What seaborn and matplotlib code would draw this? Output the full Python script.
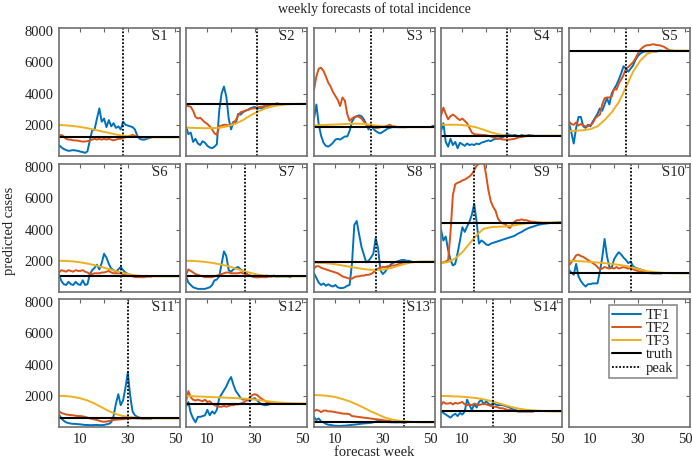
import numpy as np
import matplotlib
matplotlib.use("Agg")
import matplotlib.pyplot as plt
from matplotlib.lines import Line2D
import seaborn as sns

# ── Data ─────────────────────────────────────────────────────────────────────
PANELS = ["S1", "S2", "S3", "S4", "S5", "S6", "S7", "S8", "S9", "S10",
          "S11", "S12", "S13", "S14"]
TRUTH = [1200, 3350, 1850, 1300, 6750, 1000, 1000, 1950, 4450, 1200,
         550, 1500, 300, 1000]
PEAK = [28, 31, 25, 29, 25, 27, 26, 27, 15, 27, 30, 28, 39, 23]

# TF3 is reported every third week
WEEKS3 = list(range(1, 53, 3))

S1_TF1 = [700, 550, 450, 380, 330, 350, 380, 350, 330, 280, 250, 200, 300, 1000,
          1650, 1700, 2400, 3050, 2200, 2400, 1850, 2300, 1900, 2100, 1800, 1900,
          1700, 2200, 2000, 1950, 1900, 1850, 1700, 1300, 1100, 1050, 1050, 1100,
          1150, 1200]
S1_TF2 = [1280, 1350, 1250, 1100, 1050, 1050, 1000, 1000, 980, 950, 920, 930, 950,
          1000, 1050, 1100, 1050, 1100, 1050, 1100, 1050, 1100, 1050, 1000, 1050,
          1100, 1100, 1150, 1200, 1250, 1300, 1350, 1300, 1250, 1200, 1200, 1200,
          1200, 1200, 1200]
S1_TF3 = [1990, 1960, 1920, 1860, 1780, 1680, 1580, 1480, 1380, 1300, 1250, 1220,
          1205, 1200, 1200, 1200, 1200, 1200]

S2_TF1 = [1900, 1400, 1500, 900, 1100, 800, 700, 950, 850, 650, 550, 500, 600, 750,
          2900, 4000, 4450, 3800, 2400, 1700, 2200, 2100, 2700, 2650, 2800, 2900,
          2950, 3050, 3100, 3150, 3000, 3100, 3050, 3150, 3200, 3250, 3300, 3300,
          3350, 3350]
S2_TF2 = [3200, 3200, 3150, 2900, 2500, 2400, 2450, 2300, 2150, 2050, 1900, 1700,
          1450, 1350, 1900, 1950, 2000, 2000, 1950, 2000, 2100, 2300, 2600, 2800,
          2850, 2900, 2950, 3000, 3050, 3050, 3100, 3150, 3150, 3200, 3200, 3250,
          3300, 3300, 3350, 3350]
S2_TF3 = [1820, 1800, 1790, 1780, 1790, 1830, 1920, 2080, 2300, 2580, 2830, 3020,
          3160, 3250, 3300, 3330, 3345, 3350]

S3_TF1 = [2400, 3300, 2000, 1300, 850, 650, 600, 700, 850, 1050, 1100, 1050, 1150,
          1250, 1250, 1600, 2200, 2450, 2550, 2600, 2550, 2350, 2050, 1700, 2000,
          1750, 1600, 1500, 1450, 1550, 1650, 1750, 1800, 1850, 1850, 1850, 1850,
          1850, 1850, 1850]
S3_TF2 = [4250, 5100, 5600, 5650, 5450, 5100, 4700, 4450, 4100, 3850, 3600, 3200,
          3750, 3550, 2700, 2250, 2400, 2500, 2550, 2500, 2400, 2200, 2000, 1950,
          1900, 1850, 1800, 1800, 1850, 1850, 1900, 1950, 2000, 1900, 1900, 1850,
          1850, 1850, 1850, 1850]
S3_TF3 = [1950, 1980, 2000, 2020, 2040, 2060, 2070, 2060, 2000, 1930, 1880, 1860,
          1850, 1850, 1850, 1850, 1850, 1850]

S4_TF1 = [1600, 2100, 900, 600, 1100, 700, 900, 500, 850, 750, 650, 800, 700, 750,
          700, 800, 750, 850, 900, 950, 1000, 950, 1050, 1100, 1100, 1150, 1200,
          1300, 1400, 1350, 1300, 1350, 1300, 1250, 1350, 1300, 1300, 1350, 1300,
          1300]
S4_TF2 = [2600, 3100, 2700, 2350, 2550, 2650, 2550, 2400, 2300, 2400, 2250, 2100,
          1800, 1500, 1400, 1380, 1370, 1350, 1340, 1330, 1300, 1250, 1200, 1150,
          1120, 1100, 1060, 1050, 1050, 1050, 1080, 1100, 1150, 1200, 1220, 1250,
          1270, 1280, 1300, 1300]
S4_TF3 = [2000, 2000, 2000, 1980, 1930, 1830, 1680, 1520, 1400, 1320, 1290, 1290,
          1295, 1300, 1300, 1300, 1300, 1300]

S5_TF1 = [2100, 1500, 800, 1800, 2500, 2500, 1900, 1800, 2000, 1900, 2200, 2450,
          2700, 3050, 2900, 3300, 3700, 3300, 4000, 4300, 4550, 4900, 5300, 5750,
          5600, 5400, 5600, 5800, 6150, 6400, 6550, 6650, 6700, 6700, 6700, 6700,
          6700, 6700, 6750, 6750]
S5_TF2 = [2200, 2050, 2000, 2150, 1950, 2050, 1950, 1900, 1900, 2000, 2100, 2400,
          2550, 2650, 3300, 3700, 3750, 3750, 3800, 4300, 4250, 4650, 4900, 5200,
          5600, 5700, 5850, 6000, 6250, 6550, 6800, 6950, 7050, 7100, 7100, 7150,
          7150, 7100, 7100, 7050, 7000, 6900, 6800, 6750, 6750]
S5_TF3 = [1600, 1620, 1650, 1720, 1900, 2300, 2800, 3450, 4400, 5400, 6100, 6550,
          6700, 6740, 6750, 6750, 6750, 6750]

S6_TF1 = [1100, 700, 500, 450, 650, 500, 450, 650, 500, 450, 750, 450, 500, 1150,
          1400, 1550, 1750, 1450, 1850, 2450, 2200, 1800, 1500, 1400, 1300, 1450,
          1600, 1400, 1250, 1150, 1100, 1050, 1000, 1000, 1000, 1000, 1000, 1000,
          1000, 1000]
S6_TF2 = [1250, 1400, 1350, 1300, 1400, 1350, 1300, 1400, 1350, 1350, 1400, 1300,
          1250, 1150, 1150, 1200, 1200, 1200, 1250, 1250, 1300, 1350, 1250, 1200,
          1200, 1200, 1200, 1150, 1150, 1100, 1050, 1000, 950, 950, 950, 950, 950,
          1000, 1000, 1000]
S6_TF3 = [2000, 1990, 1960, 1900, 1820, 1720, 1600, 1470, 1340, 1220, 1120, 1050,
          1020, 1000, 1000, 1000, 1000, 1000]

S7_TF1 = [1000, 600, 450, 300, 250, 200, 200, 200, 200, 250, 300, 450, 750, 800,
          1000, 1800, 2600, 2300, 1400, 1300, 1450, 1550, 1600, 1450, 1350, 1300,
          1100, 1050, 1000, 950, 950, 950, 1000, 1000, 1050, 1000, 1000, 1050, 1000,
          1000, 1000, 1000, 1000, 1000, 950]
S7_TF2 = [1100, 1450, 1350, 1250, 1150, 1100, 1050, 1000, 950, 950, 950, 950, 1000,
          1050, 1100, 1150, 1200, 1250, 1250, 1200, 1200, 1200, 1200, 1250, 1200,
          1150, 1100, 1050, 1000, 950, 950, 950, 950, 950, 950, 1000, 1000, 1000,
          1000, 1000]
S7_TF3 = [2000, 1990, 1960, 1910, 1840, 1750, 1650, 1500, 1360, 1230, 1120, 1050,
          1020, 1000, 1000, 1000, 1000, 1000]

S8_TF1 = [1200, 900, 600, 450, 550, 400, 500, 400, 350, 450, 300, 250, 250, 300,
          400, 450, 1800, 4300, 4550, 3700, 2900, 2400, 1900, 2000, 2200, 2450, 3450,
          2800, 1400, 1150, 1300, 1550, 1700, 1850, 1900, 1950, 2000, 2050, 2050,
          2000, 2000, 1950]
S8_TF2 = [1500, 1650, 1650, 1550, 1500, 1450, 1400, 1350, 1300, 1250, 1200, 1100,
          1000, 950, 900, 850, 850, 950, 1000, 1000, 1050, 1050, 1100, 1100, 1150,
          1250, 1400, 1500, 1550, 1600, 1600, 1650, 1650, 1700, 1700, 1750, 1800,
          1850, 1900, 1950]
S8_TF3 = [1880, 1860, 1830, 1780, 1700, 1620, 1540, 1470, 1420, 1410, 1460, 1560,
          1700, 1830, 1910, 1950, 1950, 1950]

S9_TF1 = [4000, 3300, 3550, 2700, 2050, 1700, 1800, 2500, 3300, 4150, 3850, 4200,
          4500, 4950, 5650, 4500, 3100, 3300, 3200, 3050, 3000, 3100, 3150, 3200,
          3250, 3300, 3350, 3400, 3450, 3500, 3550, 3600, 3700, 3780, 3850, 3950,
          4030, 4100, 4150, 4200, 4250, 4300, 4330, 4360, 4380, 4400, 4420, 4440,
          4450, 4460, 4470, 4480]
S9_TF2 = [1850, 1900, 1950, 2050, 3800, 6200, 6900, 7000, 7050, 7150, 7200, 7300,
          7400, 7550, 7800, 8100, 8200, 8400, 8400, 7500, 6500, 5800, 5450, 5200,
          4700, 4500, 4400, 4350, 4200, 4100, 4300, 4500, 4600, 4600, 4650, 4600,
          4600, 4550, 4500, 4500, 4480, 4450, 4450]
S9_TF3 = [1840, 1920, 2150, 2550, 3100, 3650, 4050, 4150, 4180, 4200, 4250, 4330,
          4400, 4430, 4450, 4450, 4450, 4450]

S10_TF1 = [1400, 1250, 1100, 1800, 1000, 700, 500, 350, 500, 500, 550, 550, 550,
           1300, 2200, 3400, 2300, 1600, 1550, 2100, 2350, 2550, 2400, 2200, 2050,
           1850, 1950, 1650, 1550, 1500, 1450, 1400, 1350, 1300, 1250, 1200, 1200,
           1200, 1200, 1200]
S10_TF2 = [1700, 1900, 2100, 2350, 2400, 2300, 2250, 2150, 2050, 1950, 1850, 1750,
           1600, 1450, 1500, 1600, 1550, 1500, 1550, 1500, 1600, 1500, 1550, 1600,
           1550, 1500, 1550, 1450, 1400, 1350, 1300, 1300, 1250, 1250, 1200, 1200,
           1200, 1200, 1200, 1200]
S10_TF3 = [2000, 1990, 1960, 1930, 1890, 1850, 1800, 1740, 1670, 1560, 1430, 1330,
           1270, 1230, 1210, 1200, 1200, 1200]

S11_TF1 = [800, 550, 400, 300, 250, 220, 200, 200, 180, 170, 150, 130, 130, 120,
           120, 130, 130, 120, 120, 130, 170, 200, 300, 700, 1500, 2100, 1400, 1700,
           2500, 3500, 2000, 1000, 750, 650, 600, 550, 550, 550, 550, 550]
S11_TF2 = [1000, 900, 850, 800, 780, 760, 750, 720, 700, 700, 680, 650, 600, 550,
           520, 480, 450, 400, 350, 340, 350, 380, 420, 450, 470, 480, 490, 500, 520,
           540, 550, 560, 560, 550, 550, 550, 550, 550, 550, 550]
S11_TF3 = [2000, 1980, 1930, 1840, 1700, 1500, 1260, 1020, 830, 700, 630, 590, 570,
           560, 550, 550, 550, 550]

S12_TF1 = [1300, 1600, 900, 550, 300, 650, 650, 700, 750, 1100, 750, 1000, 850,
           1100, 1850, 2100, 2350, 2600, 2950, 3200, 2700, 2300, 2100, 1850, 1750,
           1800, 1700, 1700, 1800, 1850, 1700, 1550, 1450, 1400, 1400, 1450, 1500,
           1500, 1500, 1500]
S12_TF2 = [1600, 2300, 1900, 1750, 1700, 1750, 1700, 1650, 1750, 1600, 1650, 1500,
           1400, 1350, 1300, 1300, 1350, 1300, 1350, 1400, 1400, 1450, 1450, 1500,
           1550, 1650, 1750, 1900, 2050, 2100, 2050, 1900, 1800, 1700, 1600, 1550,
           1500, 1500, 1500, 1500]
S12_TF3 = [1980, 1970, 1950, 1930, 1910, 1890, 1870, 1850, 1820, 1790, 1740, 1680,
           1620, 1570, 1540, 1520, 1510, 1500]

S13_TF1 = [650, 450, 550, 350, 300, 200, 150, 130, 100, 80, 70, 70, 80, 90, 100,
           120, 140, 150, 170, 190, 210, 230, 240, 250, 270, 300, 350, 380, 400, 350,
           330, 320, 310, 300, 300, 300, 300, 300, 300, 300]
S13_TF2 = [1000, 1100, 1050, 950, 1050, 1050, 1000, 1000, 980, 950, 920, 900, 860,
           850, 850, 820, 700, 680, 660, 640, 620, 600, 580, 560, 540, 520, 500, 480,
           460, 440, 420, 400, 380, 360, 340, 330, 320, 310, 300, 300]
S13_TF3 = [2050, 2030, 1990, 1920, 1790, 1640, 1450, 1230, 1000, 800, 600, 470, 400,
           350, 320, 300, 300, 300]

S14_TF1 = [1000, 900, 800, 700, 600, 750, 850, 700, 900, 800, 1000, 1750, 1400,
           1100, 1450, 1250, 1600, 1750, 1450, 1650, 1500, 1400, 1550, 1450, 1400,
           1400, 1400, 1350, 1300, 1250, 1150, 1100, 1050, 1000, 1000, 1000, 1000,
           1000, 1000, 1000]
S14_TF2 = [1400, 1600, 1500, 1500, 1550, 1450, 1550, 1500, 1550, 1600, 1450, 1400,
           1450, 1400, 1500, 1450, 1400, 1450, 1500, 1450, 1400, 1350, 1300, 1300,
           1250, 1200, 1200, 1150, 1100, 1100, 1050, 1050, 1000, 1000, 1000, 1000,
           1000, 1000, 1000, 1000]
S14_TF3 = [1990, 1980, 1960, 1940, 1900, 1850, 1770, 1660, 1540, 1400, 1270, 1170,
           1100, 1060, 1030, 1010, 1000, 1000]

TF1 = [S1_TF1, S2_TF1, S3_TF1, S4_TF1, S5_TF1, S6_TF1, S7_TF1, S8_TF1, S9_TF1,
       S10_TF1, S11_TF1, S12_TF1, S13_TF1, S14_TF1]
TF2 = [S1_TF2, S2_TF2, S3_TF2, S4_TF2, S5_TF2, S6_TF2, S7_TF2, S8_TF2, S9_TF2,
       S10_TF2, S11_TF2, S12_TF2, S13_TF2, S14_TF2]
TF3 = [S1_TF3, S2_TF3, S3_TF3, S4_TF3, S5_TF3, S6_TF3, S7_TF3, S8_TF3, S9_TF3,
       S10_TF3, S11_TF3, S12_TF3, S13_TF3, S14_TF3]

# ── Style ────────────────────────────────────────────────────────────────────
sns.set_style("white")
plt.rcParams["font.family"] = ["Liberation Serif", "DejaVu Serif"]
plt.rcParams["text.color"] = "#222222"
plt.rcParams["xtick.color"] = "#666666"
plt.rcParams["ytick.color"] = "#666666"
plt.rcParams["xtick.labelcolor"] = "#222222"
plt.rcParams["ytick.labelcolor"] = "#222222"

C1, C2, C3 = "#0072BD", "#D95319", "#EDB120"
LW = 1.4
FS = 10.5

W, H = 692, 463
COL_LEFT = [59, 186, 314, 441, 569]
ROW_TOP = [28, 164, 299]
PW, PH = 121, 128

fig = plt.figure(figsize=(W / 100, H / 100), dpi=100)

for i in range(15):
    r, c = divmod(i, 5)
    ax = fig.add_axes([COL_LEFT[c] / W, 1 - (ROW_TOP[r] + PH) / H, PW / W, PH / H])

    if i < len(PANELS):
        tf1, tf2 = TF1[i], TF2[i]
        sns.lineplot(x=np.arange(1, len(tf1) + 1), y=tf1, ax=ax, color=C1, lw=LW)
        sns.lineplot(x=np.arange(1, len(tf2) + 1), y=tf2, ax=ax, color=C2, lw=LW)
        sns.lineplot(x=WEEKS3, y=TF3[i], ax=ax, color=C3, lw=LW)
        ax.axhline(TRUTH[i], color="black", lw=1.5)
        ax.axvline(PEAK[i], color="black", lw=1.3, ls=(0, (1, 1)))
        ax.text(40, 8100, PANELS[i], ha="left", va="top", fontsize=FS)

    ax.set_xlim(1, 52)
    ax.set_ylim(0, 8200)
    ax.set_xticks([10, 20, 30, 40, 50])
    ax.set_yticks([2000, 4000, 6000, 8000])
    ax.set_xlabel("")
    ax.set_ylabel("")
    ax.tick_params(direction="in", top=True, right=True, length=3, width=0.8,
                   labelsize=FS, pad=4)
    if r == 2:
        ax.set_xticklabels(["10", "", "30", "", "50"])
    else:
        ax.tick_params(labelbottom=False)
    if c == 0:
        ax.set_yticklabels(["2000", "4000", "6000", "8000"])
    else:
        ax.tick_params(labelleft=False)
    for s in ax.spines.values():
        s.set_color("#707070")
        s.set_linewidth(1.2)

    if i == 14:
        handles = [Line2D([], [], color=C1, lw=LW),
                   Line2D([], [], color=C2, lw=LW),
                   Line2D([], [], color=C3, lw=LW),
                   Line2D([], [], color="black", lw=1.5),
                   Line2D([], [], color="black", lw=1.3, ls=(0, (1, 1)))]
        leg = ax.legend(handles, ["TF1", "TF2", "TF3", "truth", "peak"],
                        loc="upper right", bbox_to_anchor=(1 - 13 / PW, 1 - 6 / PH),
                        borderaxespad=0, fontsize=FS, frameon=True, fancybox=False,
                        edgecolor="#707070", labelspacing=0.0, handlelength=2.0,
                        handletextpad=0.3, borderpad=0.25)
        leg.get_frame().set_linewidth(1.2)

fig.text(374 / W, 1 - 9 / H, "weekly forecasts of total incidence",
         ha="center", va="center", fontsize=10)
fig.text(374 / W, 1 - 452 / H, "forecast week", ha="center", va="center",
         fontsize=10.5)
fig.text(10 / W, 1 - 231 / H, "predicted cases", ha="center", va="center",
         rotation=90, fontsize=10.5)

fig.savefig("out.png", dpi=100, facecolor="white")
